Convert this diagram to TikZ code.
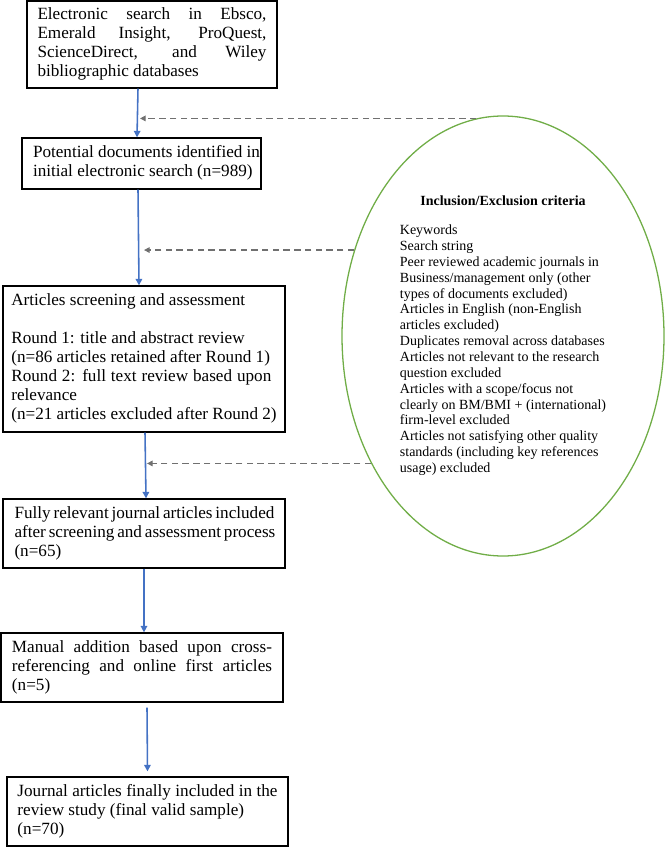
\documentclass[tikz,border=0pt]{standalone}
\usepackage{fontspec}
\setmainfont{Liberation Serif}
\usetikzlibrary{arrows.meta,shapes.geometric}
\definecolor{flowblue}{HTML}{4472C4}
\definecolor{dashgray}{HTML}{707070}
\definecolor{critgreen}{HTML}{70AD47}
\newcommand{\jl}[2]{\makebox[#1][s]{#2}}
\tikzset{
  box/.style={draw=black, line width=0.9pt, inner sep=0pt, fill=white,
    font=\fontsize{12}{13.3}\selectfont},
  arr/.style={draw=flowblue, line width=1.1pt, -{Triangle[length=4.5pt,width=4.5pt]}},
  darr/.style={draw=dashgray, line width=0.8pt, dash pattern=on 4.5pt off 3pt,
    -{Triangle[length=4pt,width=4pt]}},
  critbox/.style={ellipse, draw=critgreen, line width=0.9pt, inner sep=0pt,
    font=\fontsize{9.8}{11.1}\selectfont}
}
\begin{document}
\begin{tikzpicture}[x=0.7pt,y=-0.7pt]
\useasboundingbox (0,0) rectangle (668,847);

\node[box, minimum width=175pt, minimum height=60.9pt] (b1) at (152,44.5)
  {\begin{tabular}{@{}l@{}}\jl{160.3pt}{Electronic search in Ebsco,}\\
   \jl{160.3pt}{Emerald Insight, ProQuest,}\\
   \jl{160.3pt}{ScienceDirect, and Wiley}\\
   bibliographic databases\end{tabular}};

\node[box, minimum width=167.3pt, minimum height=35.7pt] (b2) at (141.5,163.5)
  {\begin{tabular}{@{\hspace{7pt}}l@{}}\jl{158.9pt}{Potential documents identified in}\\
   initial electronic search (n=989)\end{tabular}};

\node[box, minimum width=197.4pt, minimum height=102.2pt] (b3) at (144,359)
  {\begin{tabular}{@{}l@{}}Articles screening and assessment\\
   \\
   Round 1: title and abstract review\\
   (n=86 articles retained after Round 1)\\
   \jl{182pt}{Round 2: full text review based upon}\\
   relevance\\
   (n=21 articles excluded after Round 2)\end{tabular}};

\node[box, minimum width=197.4pt, minimum height=48.3pt] (b4) at (144,533.5)
  {\begin{tabular}{@{}l@{}}\jl{181.3pt}{Fully relevant journal articles included}\\
   \jl{181.3pt}{after screening and assessment process}\\
   (n=65)\end{tabular}};

\node[box, minimum width=197.4pt, minimum height=48.3pt] (b5) at (142,667.5)
  {\begin{tabular}{@{}l@{}}\jl{182pt}{Manual addition based upon cross-}\\
   \jl{182pt}{referencing and online first articles}\\
   (n=5)\end{tabular}};

\node[box, minimum width=196.7pt, minimum height=48.3pt] (b6) at (147.5,811.5)
  {\begin{tabular}{@{}l@{}}\jl{182pt}{Journal articles finally included in the}\\
   review study (final valid sample)\\
   (n=70)\end{tabular}};

\node[critbox, minimum width=225.4pt, minimum height=308pt] (crit) at (503,336)
  {\begin{tabular}{@{}l@{}}\multicolumn{1}{@{}c@{}}{\textbf{Inclusion/Exclusion criteria}}\\[9pt]
   Keywords\\
   Search string\\
   Peer reviewed academic journals in\\
   Business/management only (other\\
   types of documents excluded)\\
   Articles in English (non-English\\
   articles excluded)\\
   Duplicates removal across databases\\
   Articles not relevant to the research\\
   question excluded\\
   Articles with a scope/focus not\\
   clearly on BM/BMI + (international)\\
   firm-level excluded\\
   Articles not satisfying other quality\\
   standards (including key references\\
   usage) excluded\end{tabular}};

% main flow
\draw[arr] ([xshift=-9.8pt]b1.south) -- ([xshift=-3.15pt]b2.north);
\draw[arr] ([xshift=-2.45pt]b2.south) -- ([xshift=-3.5pt]b3.north);
\draw[arr] ([xshift=0.7pt]b3.south) -- ([xshift=1.4pt]b4.north);
\draw[arr] (b4.south) -- ([xshift=1.4pt]b5.north);
\draw[arr] ([xshift=3.5pt,yshift=-3.5pt]b5.south) -- ([yshift=3.5pt]b6.north);

% criteria feeds
\coordinate (t1) at (140,117);
\coordinate (t2) at (144,250);
\coordinate (t3) at (147,462);
\draw[darr] (crit.97) -- (crit.97 -| t1);
\draw[darr] (crit.150) -- (crit.150 -| t2);
\draw[darr] (crit.224) -- (crit.224 -| t3);
\end{tikzpicture}
\end{document}
